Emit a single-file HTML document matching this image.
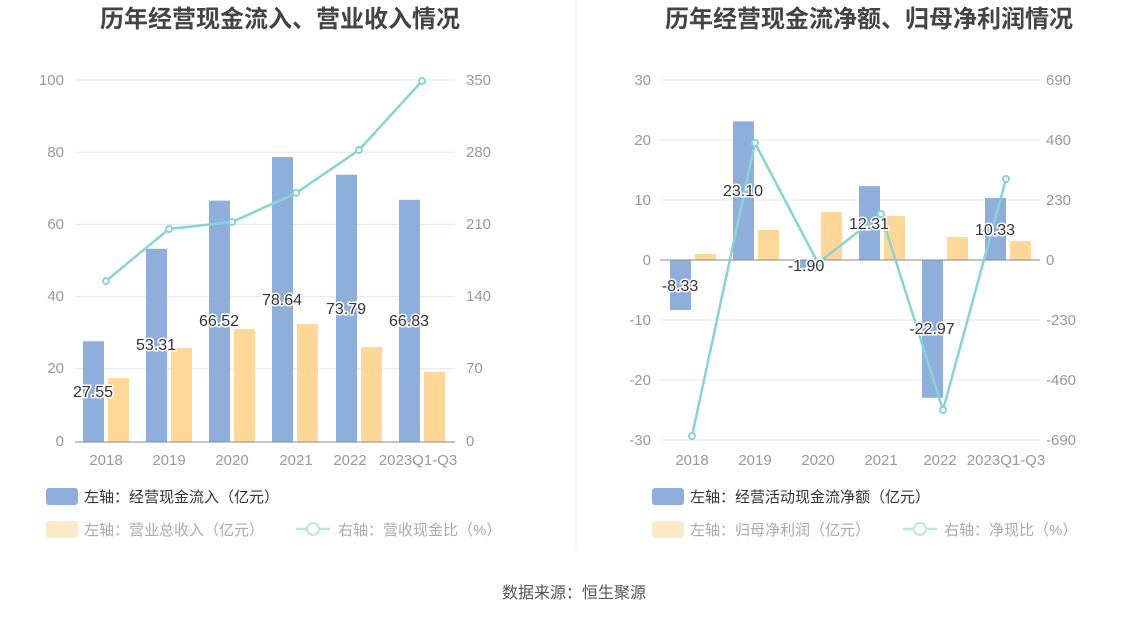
<!DOCTYPE html><html><head><meta charset="utf-8"><style>body{margin:0;background:#fff}svg{display:block;font-family:"Liberation Sans","Noto Sans CJK SC",sans-serif}</style></head><body>
<svg width="1148" height="619" xmlns="http://www.w3.org/2000/svg">
<line x1="576" y1="0" x2="576" y2="550" stroke="#eee"/>
<text x="280" y="27" text-anchor="middle" font-size="24" font-weight="bold" fill="#444">历年经营现金流入、营业收入情况</text>
<text x="869" y="27" text-anchor="middle" font-size="24" font-weight="bold" fill="#444">历年经营现金流净额、归母净利润情况</text>
<g stroke="#e3e7f0">
<line x1="75" y1="80" x2="455" y2="80"/><line x1="75" y1="152.2" x2="455" y2="152.2"/><line x1="75" y1="224.4" x2="455" y2="224.4"/><line x1="75" y1="296.6" x2="455" y2="296.6"/><line x1="75" y1="368.8" x2="455" y2="368.8"/>
<line x1="660" y1="80" x2="1040" y2="80"/><line x1="660" y1="140" x2="1040" y2="140"/><line x1="660" y1="200" x2="1040" y2="200"/><line x1="660" y1="320" x2="1040" y2="320"/><line x1="660" y1="380" x2="1040" y2="380"/><line x1="660" y1="440" x2="1040" y2="440"/>
</g>
<g font-size="15" fill="#999">
<g text-anchor="end"><text x="64" y="85">100</text><text x="64" y="157">80</text><text x="64" y="229">60</text><text x="64" y="301">40</text><text x="64" y="373">20</text><text x="64" y="446">0</text>
<text x="651" y="85">30</text><text x="651" y="145">20</text><text x="651" y="205">10</text><text x="651" y="265">0</text><text x="651" y="325">-10</text><text x="651" y="385">-20</text><text x="651" y="445">-30</text></g>
<text x="466" y="85">350</text><text x="466" y="157">280</text><text x="466" y="229">210</text><text x="466" y="301">140</text><text x="466" y="373">70</text><text x="466" y="446">0</text>
<text x="1046" y="85">690</text><text x="1046" y="145">460</text><text x="1046" y="205">230</text><text x="1046" y="265">0</text><text x="1046" y="325">-230</text><text x="1046" y="385">-460</text><text x="1046" y="445">-690</text>
<g text-anchor="middle"><text x="106" y="465">2018</text><text x="169" y="465">2019</text><text x="232" y="465">2020</text><text x="296" y="465">2021</text><text x="350" y="465">2022</text><text x="418" y="465">2023Q1-Q3</text>
<text x="692" y="465">2018</text><text x="755" y="465">2019</text><text x="818" y="465">2020</text><text x="881" y="465">2021</text><text x="940" y="465">2022</text><text x="1006" y="465">2023Q1-Q3</text></g>
</g>
<g fill="#8eaedc">
<rect x="83" y="341.3" width="21" height="100.7"/><rect x="146" y="248.8" width="21" height="193.2"/><rect x="209" y="200.6" width="21" height="241.4"/><rect x="272" y="157.1" width="21" height="284.9"/><rect x="336" y="174.7" width="21" height="267.3"/><rect x="399" y="199.8" width="21" height="242.2"/>
<rect x="670" y="260" width="21" height="50"/><rect x="733" y="121.4" width="21" height="138.6"/><rect x="796" y="260" width="21" height="11.4"/><rect x="859" y="186.1" width="21" height="73.9"/><rect x="922" y="260" width="21" height="137.8"/><rect x="985" y="198" width="21" height="62"/>
</g>
<g fill="#ffd796">
<rect x="108" y="378" width="21" height="64"/><rect x="171" y="348" width="21" height="94"/><rect x="234" y="329" width="21" height="113"/><rect x="297" y="324" width="21" height="118"/><rect x="361" y="347" width="21" height="95"/><rect x="424" y="372" width="21" height="70"/>
<rect x="695" y="254" width="21" height="6"/><rect x="758" y="230" width="21" height="30"/><rect x="821" y="212" width="21" height="48"/><rect x="884" y="216" width="21" height="44"/><rect x="947" y="237" width="21" height="23"/><rect x="1010" y="241" width="21" height="19"/>
</g>
<line x1="75" y1="442" x2="455" y2="442" stroke="#888"/>
<line x1="660" y1="260" x2="1040" y2="260" stroke="#888"/>
<g fill="none" stroke="#86d4d6" stroke-width="2.5">
<polyline points="106,281 169,229 232,222 296,193 359,150 422,81"/>
<polyline points="692,436 755,143 818,263 881,214 943,410 1006,179"/>
</g>
<g fill="#fff" stroke="#86d4d6" stroke-width="2">
<circle cx="106" cy="281" r="3"/><circle cx="169" cy="229" r="3"/><circle cx="232" cy="222" r="3"/><circle cx="296" cy="193" r="3"/><circle cx="359" cy="150" r="3"/><circle cx="422" cy="81" r="3"/>
<circle cx="692" cy="436" r="3"/><circle cx="755" cy="143" r="3"/><circle cx="818" cy="263" r="3"/><circle cx="881" cy="214" r="3"/><circle cx="943" cy="410" r="3"/><circle cx="1006" cy="179" r="3"/>
</g>
<g font-size="16" fill="#333" text-anchor="middle" stroke="#fff" stroke-width="3" paint-order="stroke">
<text x="93" y="397">27.55</text><text x="156" y="350">53.31</text><text x="219" y="326">66.52</text><text x="282" y="305">78.64</text><text x="346" y="314">73.79</text><text x="409" y="326">66.83</text>
<text x="680" y="291">-8.33</text><text x="743" y="196">23.10</text><text x="806" y="271">-1.90</text><text x="869" y="229">12.31</text><text x="932" y="334">-22.97</text><text x="995" y="235">10.33</text>
</g>
<g font-size="15">
<rect x="46" y="488" width="32" height="17" rx="3" fill="#8eaedc"/><text x="84" y="502" fill="#333">左轴：经营现金流入（亿元）</text>
<rect x="46" y="521" width="32" height="17" rx="3" fill="#fde9c8"/><text x="84" y="535" fill="#aaa">左轴：营业总收入（亿元）</text>
<line x1="296" y1="529" x2="330" y2="529" stroke="#b8e6e8" stroke-width="2.5"/><circle cx="313" cy="529" r="6" fill="#fff" stroke="#b8e6e8" stroke-width="2"/><text x="338" y="535" fill="#aaa">右轴：营收现金比（%）</text>
<rect x="652" y="488" width="32" height="17" rx="3" fill="#8eaedc"/><text x="690" y="502" fill="#333">左轴：经营活动现金流净额（亿元）</text>
<rect x="652" y="521" width="32" height="17" rx="3" fill="#fde9c8"/><text x="690" y="535" fill="#aaa">左轴：归母净利润（亿元）</text>
<line x1="903" y1="529" x2="937" y2="529" stroke="#b8e6e8" stroke-width="2.5"/><circle cx="920" cy="529" r="6" fill="#fff" stroke="#b8e6e8" stroke-width="2"/><text x="944" y="535" fill="#aaa">右轴：净现比（%）</text>
<text x="574" y="598" text-anchor="middle" fill="#555" font-size="16">数据来源：恒生聚源</text>
</g>
</svg></body></html>
